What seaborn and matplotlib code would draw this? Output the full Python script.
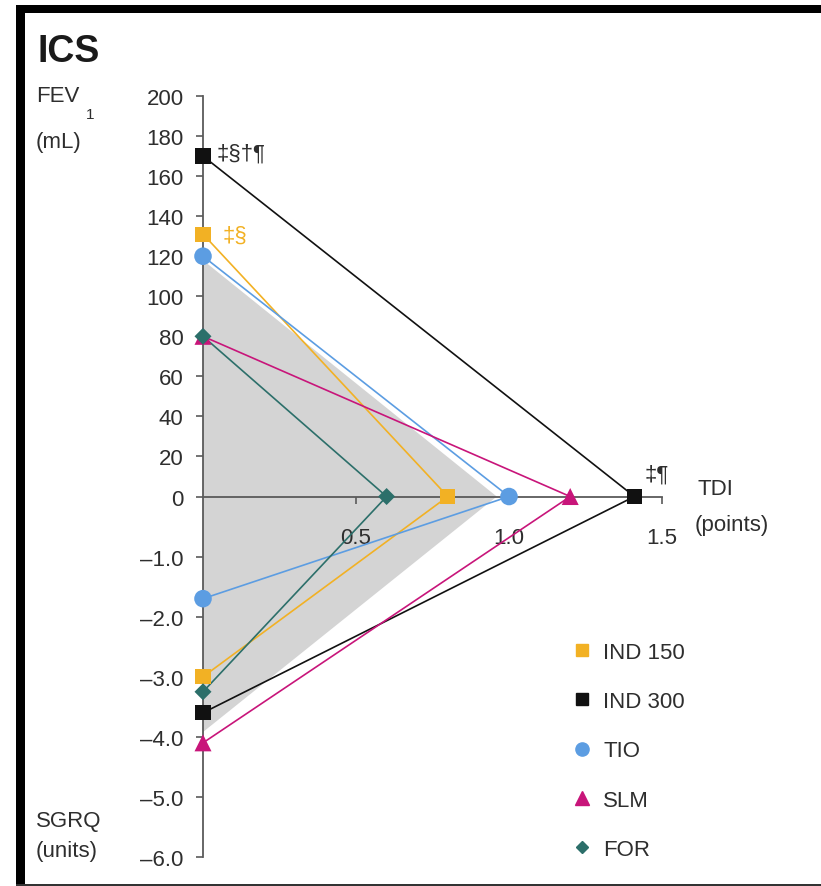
import matplotlib
matplotlib.use("Agg")
import matplotlib.pyplot as plt
from matplotlib.lines import Line2D
from matplotlib.patches import Rectangle, Polygon
import numpy as np
import pandas as pd
import seaborn as sns

# Treatment groups and their changes versus placebo
groups = ["IND 150", "IND 300", "TIO", "SLM", "FOR"]
fev1_ml = [131, 170, 120, 80, 80]          # trough FEV1 (mL)
tdi_points = [0.80, 1.41, 1.00, 1.20, 0.60]  # TDI focal score (points)
sgrq_units = [-3.0, -3.6, -1.7, -4.1, -3.25]  # SGRQ total score (units)

# Shaded reference triangle
ref_fev1 = 118
ref_tdi = 0.96
ref_sgrq = -3.92

colors = ["#F2B124", "#111111", "#5C9DE2", "#C8157A", "#2C6F6A"]
markers = ["s", "s", "o", "^", "D"]
marker_sizes = [120, 120, 160, 150, 75]

fev1_ticks = [200, 180, 160, 140, 120, 100, 80, 60, 40, 20, 0]
sgrq_ticks = [-1.0, -2.0, -3.0, -4.0, -5.0, -6.0]
tdi_ticks = [0.5, 1.0, 1.5]

# SGRQ shares the vertical axis below zero, on its own scale
SGRQ_SCALE = 30.0


def sgrq_to_y(v):
    return v * SGRQ_SCALE


sns.set_theme(style="white")
plt.rcParams["font.family"] = ["Liberation Sans", "DejaVu Sans"]
TXT = "#2e2e2e"
AX = "#5a5a5a"
FS = 16

rows = []
for g, f, t, s in zip(groups, fev1_ml, tdi_points, sgrq_units):
    rows.append({"group": g, "order": 0, "x": 0.0, "y": f})
    rows.append({"group": g, "order": 1, "x": t, "y": 0.0})
    rows.append({"group": g, "order": 2, "x": 0.0, "y": sgrq_to_y(s)})
df = pd.DataFrame(rows)
palette = dict(zip(groups, colors))

fig = plt.figure(figsize=(8.21, 8.87), dpi=100)
W, H = 821, 887
ax = fig.add_axes([203 / W, 1 - 858 / H, (662 - 203) / W, 761 / H])
ax.set_xlim(0, 1.5)
ax.set_ylim(sgrq_to_y(-6.0), 200)

# shaded reference area
ax.add_patch(Polygon([(0, ref_fev1), (ref_tdi, 0), (0, sgrq_to_y(ref_sgrq))],
                     closed=True, facecolor="#d4d4d4", edgecolor="none", zorder=1))

sns.lineplot(data=df, x="x", y="y", hue="group", units="group", estimator=None,
             sort=False, palette=palette, legend=False, linewidth=1.2,
             ax=ax, zorder=3, clip_on=False)

for g, c, m, sz in zip(groups, colors, markers, marker_sizes):
    sub = df[df["group"] == g]
    sns.scatterplot(data=sub, x="x", y="y", color=c, marker=m, s=sz,
                    edgecolor="none", legend=False, ax=ax, zorder=5, clip_on=False)

# axes
for side in ["top", "right"]:
    ax.spines[side].set_visible(False)
ax.spines["left"].set_position(("data", 0))
ax.spines["left"].set_bounds(sgrq_to_y(-6.0), 200)
ax.spines["bottom"].set_position(("data", 0))
ax.spines["bottom"].set_bounds(0, 1.5)
for sp in ["left", "bottom"]:
    ax.spines[sp].set_color(AX)
    ax.spines[sp].set_linewidth(1.3)
    ax.spines[sp].set_zorder(2)
ax.xaxis.set_zorder(2)
ax.yaxis.set_zorder(2)

ytick_pos = fev1_ticks + [sgrq_to_y(v) for v in sgrq_ticks]
ytick_lab = [str(v) for v in fev1_ticks] + ["\u2013" + f"{abs(v):.1f}" for v in sgrq_ticks]
ax.set_yticks(ytick_pos)
ax.set_yticklabels(ytick_lab)
ax.set_xticks(tdi_ticks)
ax.set_xticklabels([f"{v:.1f}" for v in tdi_ticks])
ax.tick_params(axis="y", direction="out", length=5, width=1.2, color=AX,
               pad=9, labelsize=FS, labelcolor=TXT, left=True)
ax.tick_params(axis="x", direction="out", length=5, width=1.2, color=AX,
               pad=17, labelsize=FS, labelcolor=TXT, bottom=True)
ax.set_xlabel("")
ax.set_ylabel("")
ax.grid(False)

# significance marks
ax.annotate("‡§†¶", xy=(0, fev1_ml[1]), xytext=(10, 2), textcoords="offset points",
            fontsize=FS, color=TXT, va="center", ha="left")
ax.annotate("‡§", xy=(0, fev1_ml[0]), xytext=(14, -1), textcoords="offset points",
            fontsize=FS, color=colors[0], va="center", ha="left")
ax.annotate("‡¶", xy=(tdi_points[1], 0), xytext=(7, 16), textcoords="offset points",
            fontsize=FS, color=TXT, va="center", ha="left")


def ftext(x, y, s, **kw):
    fig.text(x / W, 1 - y / H, s, **kw)


ftext(37, 62, "ICS", fontsize=27, fontweight="bold", color="#1a1a1a", va="baseline")
ftext(36, 102, "FEV", fontsize=FS, color=TXT, va="baseline")
ftext(86, 119, "1", fontsize=11, color=TXT, va="baseline")
ftext(36, 148, "(mL)", fontsize=FS, color=TXT, va="baseline")
ftext(36, 827, "SGRQ", fontsize=FS, color=TXT, va="baseline")
ftext(36, 857, "(units)", fontsize=FS, color=TXT, va="baseline")
ftext(697, 495, "TDI", fontsize=FS, color=TXT, va="baseline")
ftext(695, 531, "(points)", fontsize=FS, color=TXT, va="baseline")

# legend
handles = [Line2D([], [], linestyle="none", marker=m, color=c, markersize=ms)
           for m, c, ms in zip(markers, colors, [8.5, 8.5, 9.5, 9.5, 6.5])]
fig.legend(handles, groups, loc="upper left", bbox_to_anchor=(571 / W, 1 - 643 / H),
           frameon=False, fontsize=FS, handlelength=1.0, handletextpad=0.45,
           labelspacing=1.27, borderpad=0, borderaxespad=0, labelcolor=TXT)

# frame
fig.add_artist(Rectangle((16 / W, 0), 9 / W, 1 - 6 / H, transform=fig.transFigure,
                         facecolor="black", edgecolor="none"))
fig.add_artist(Rectangle((16 / W, 1 - 14 / H), 1 - 16 / W, 8 / H, transform=fig.transFigure,
                         facecolor="black", edgecolor="none"))
fig.add_artist(Rectangle((16 / W, 0), 1 - 16 / W, 2.5 / H, transform=fig.transFigure,
                         facecolor="#333333", edgecolor="none"))

fig.savefig("out.png", dpi=100, facecolor="white")
